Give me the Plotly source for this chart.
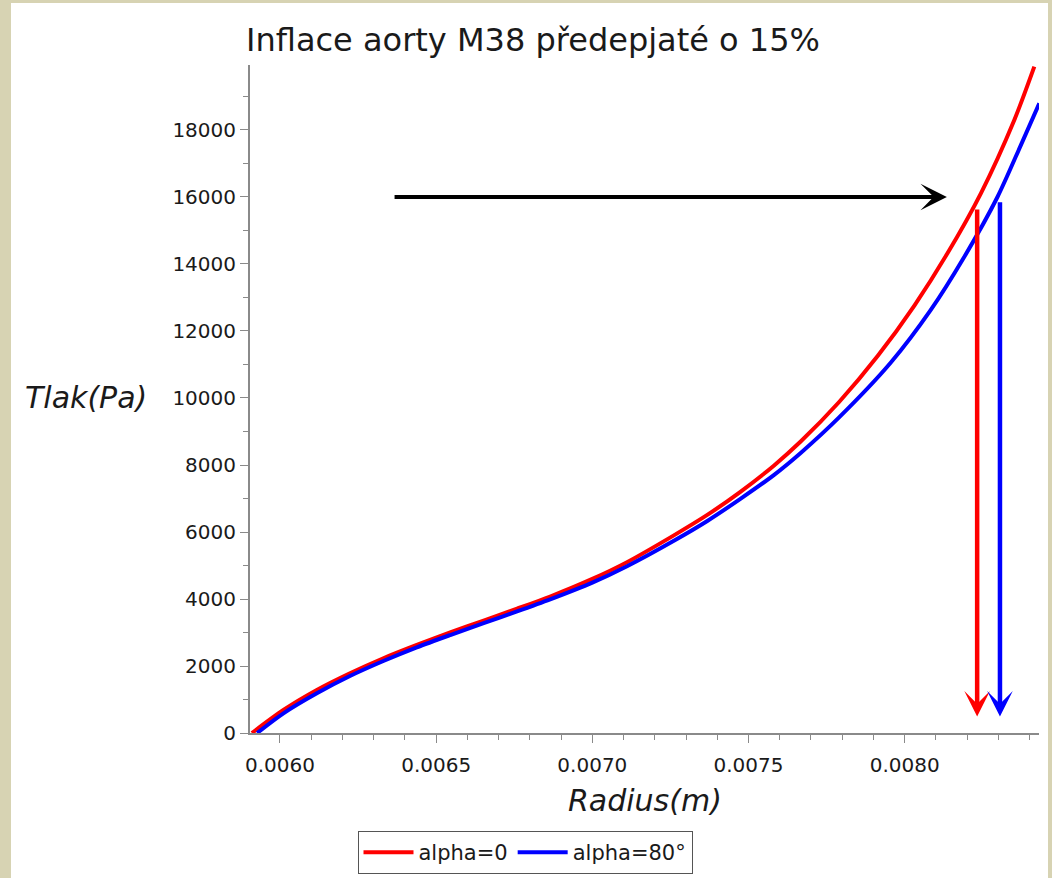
import plotly.graph_objects as go

# Inflation curves: radius (m) vs. pressure (Pa)
radius_alpha0 = [0.005910, 0.006011, 0.006118, 0.006224, 0.006331, 0.006438, 0.006545,
                 0.006652, 0.006759, 0.006865, 0.007000, 0.007111, 0.007261, 0.007368,
                 0.007474, 0.007581, 0.007667, 0.007790, 0.007914, 0.008031, 0.008137,
                 0.008244, 0.008351, 0.008415]
pressure_alpha0 = [0, 687, 1284, 1782, 2230, 2627, 3000,
                   3358, 3711, 4075, 4600, 5100, 5900, 6510,
                   7200, 7980, 8700, 9880, 11260, 12760, 14319,
                   16110, 18299, 19890]

radius_alpha80 = [0.005927, 0.006011, 0.006118, 0.006224, 0.006331, 0.006438, 0.006545,
                  0.006652, 0.006759, 0.006865, 0.007000, 0.007111, 0.007261, 0.007368,
                  0.007474, 0.007581, 0.007667, 0.007790, 0.007955, 0.008083, 0.008190,
                  0.008297, 0.008372, 0.008431]
pressure_alpha80 = [0, 587, 1185, 1701, 2149, 2557, 2925,
                    3280, 3630, 3990, 4490, 4980, 5740, 6330,
                    6990, 7700, 8360, 9420, 11050, 12620, 14200,
                    16000, 17550, 18797]

series_names = ["alpha=0", "alpha=80°"]

# Reference pressure and the radii at that pressure
ref_pressure = 16000
ref_arrow_start = 0.006362
ref_arrow_end = 0.008135
radius_read_alpha0 = 0.008232
radius_read_alpha80 = 0.008305
read_top_alpha0 = 15672
read_top_alpha80 = 15890
read_bottom = 490

x_ticks = [0.0060, 0.0065, 0.0070, 0.0075, 0.0080]
y_ticks = [0, 2000, 4000, 6000, 8000, 10000, 12000, 14000, 16000, 18000]

W, H = 1052, 878
ML, MR, MT, MB = 250, 13, 65, 145
FONT = "DejaVu Sans"
TXT = "#1a1a1a"
AX = "#8a8a8a"


def px_x(px):
    return (px - ML) / (W - ML - MR)


def px_y(py):
    return (H - MB - py) / (H - MT - MB)


fig = go.Figure()
fig.add_trace(go.Scatter(x=radius_alpha0, y=pressure_alpha0, mode="lines",
                         name=series_names[0],
                         line=dict(color="#ff0000", width=4, shape="spline", smoothing=0.8)))
fig.add_trace(go.Scatter(x=radius_alpha80, y=pressure_alpha80, mode="lines",
                         name=series_names[1],
                         line=dict(color="#0000ff", width=4, shape="spline", smoothing=0.8)))

annotations = [
    # horizontal reference arrow at 16000 Pa
    dict(x=ref_arrow_end, y=ref_pressure, ax=ref_arrow_start, ay=ref_pressure,
         xref="x", yref="y", axref="x", ayref="y", text="", showarrow=True,
         arrowhead=3, arrowsize=1.1, arrowwidth=4, arrowcolor="#000000"),
    # vertical drop lines down to the radius axis
    dict(x=radius_read_alpha0, y=read_bottom, ax=radius_read_alpha0, ay=read_top_alpha0,
         xref="x", yref="y", axref="x", ayref="y", text="", showarrow=True,
         arrowhead=3, arrowsize=0.95, arrowwidth=4.5, arrowcolor="#ff0000"),
    dict(x=radius_read_alpha80, y=read_bottom, ax=radius_read_alpha80, ay=read_top_alpha80,
         xref="x", yref="y", axref="x", ayref="y", text="", showarrow=True,
         arrowhead=3, arrowsize=0.95, arrowwidth=4.5, arrowcolor="#0000ff"),
    # axis titles
    dict(x=px_x(86), y=px_y(397), xref="paper", yref="paper", showarrow=False,
         text="<i>Tlak(Pa)</i>", font=dict(family=FONT, size=30, color=TXT),
         xanchor="center", yanchor="middle"),
    dict(x=px_x(645), y=px_y(800), xref="paper", yref="paper", showarrow=False,
         text="<i>Radius(m)</i>", font=dict(family=FONT, size=30, color=TXT),
         xanchor="center", yanchor="middle"),
]

shapes = [
    dict(type="rect", xref="paper", yref="paper", layer="below",
         x0=px_x(11), x1=px_x(1048), y0=px_y(H + 5), y1=px_y(3),
         fillcolor="#ffffff", line=dict(width=0)),
]

fig.update_layout(
    width=W, height=H,
    margin=dict(l=ML, r=MR, t=MT, b=MB, autoexpand=False),
    paper_bgcolor="#d7d3b3",
    plot_bgcolor="#ffffff",
    font=dict(family=FONT, color=TXT),
    title=dict(text="Inflace aorty M38 předepjaté o 15%", x=533 / W, xref="container",
               y=1 - 40 / H, yref="container", xanchor="center", yanchor="middle",
               font=dict(family=FONT, size=32, color=TXT)),
    showlegend=True,
    legend=dict(orientation="h", x=px_x(525), y=px_y(831), xanchor="center", yanchor="top",
                bordercolor="#555555", borderwidth=1, bgcolor="#ffffff",
                font=dict(family=FONT, size=21, color=TXT), itemwidth=50),
    annotations=annotations,
    shapes=shapes,
)

fig.update_xaxes(range=[0.005904, 0.00843], tickvals=x_ticks, tickformat=".4f",
                 showgrid=False, zeroline=False, showline=True, linecolor=AX, linewidth=2,
                 ticks="outside", ticklen=8, tickcolor=AX, tickwidth=1, automargin=False,
                 ticklabelstandoff=5,
                 tickfont=dict(family=FONT, size=20, color=TXT),
                 minor=dict(dtick=0.0001, tick0=0.006, ticks="outside", ticklen=5,
                            tickcolor=AX, showgrid=False))
fig.update_yaxes(range=[0, 19940], tickvals=y_ticks, tickformat="d",
                 showgrid=False, zeroline=False, showline=True, linecolor=AX, linewidth=2,
                 ticks="outside", ticklen=8, tickcolor=AX, tickwidth=1, automargin=False,
                 tickfont=dict(family=FONT, size=20, color=TXT),
                 minor=dict(dtick=1000, tick0=0, ticks="outside", ticklen=5,
                            tickcolor=AX, showgrid=False))

fig.write_html("out.html")
